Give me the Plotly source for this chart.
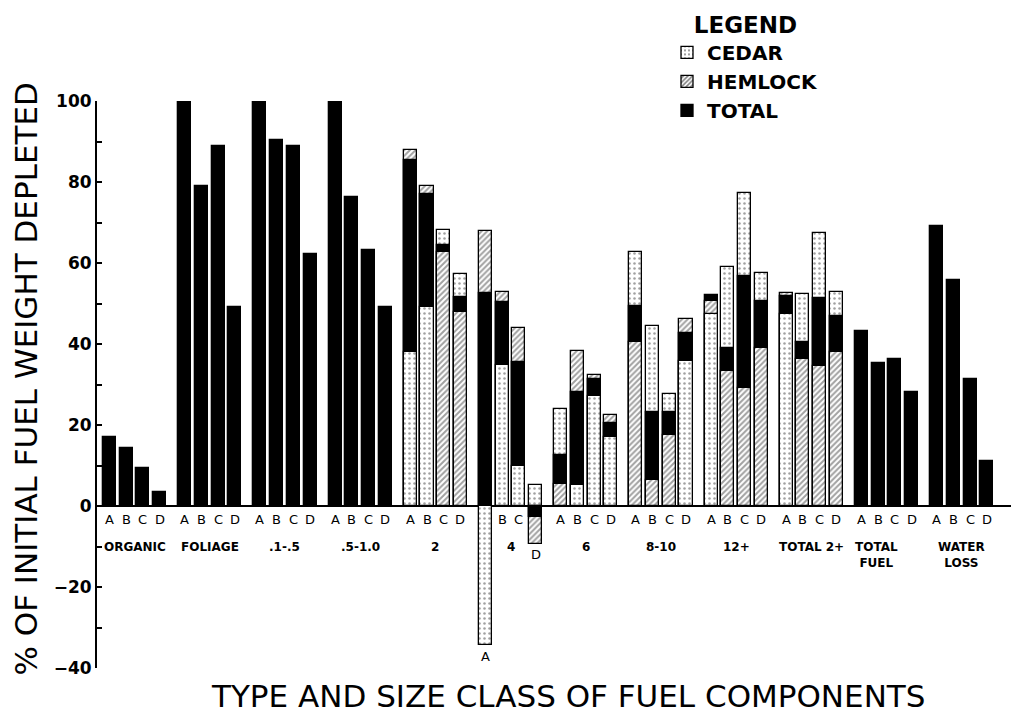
import plotly.graph_objects as go

# Fuel classes and the four burns (A-D) within each class
groups = ["ORGANIC", "FOLIAGE", ".1-.5", ".5-1.0", "2", "4", "6", "8-10",
          "12+", "TOTAL 2+", "TOTAL<br>FUEL", "WATER<br>LOSS"]
runs = ["A", "B", "C", "D"]

# % of initial fuel weight depleted (None = no species breakdown)
total = [
    17.0, 14.2, 9.3, 3.5,       # organic
    100.0, 79.0, 88.8, 49.1,    # foliage
    100.0, 90.3, 89.0, 62.2,    # .1-.5
    100.0, 76.2, 63.3, 49.1,    # .5-1.0
    85.5, 77.1, 64.4, 51.5,     # 2
    52.7, 50.4, 35.5, -2.8,     # 4
    12.5, 28.2, 31.3, 20.6,     # 6
    49.3, 23.1, 23.1, 42.7,     # 8-10
    52.1, 39.0, 56.8, 50.7,     # 12+
    51.9, 40.6, 51.4, 46.8,     # total 2+
    43.2, 35.3, 36.4, 28.2,     # total fuel
    69.1, 55.8, 31.4, 11.1,     # water loss
]
cedar = [
    None, None, None, None,
    None, None, None, None,
    None, None, None, None,
    None, None, None, None,
    38.0, 49.1, 68.1, 57.4,
    -34.3, 34.7, 10.0, 5.2,
    24.0, 5.2, 27.2, 17.0,
    62.6, 44.4, 27.7, 35.7,
    47.3, 59.1, 77.3, 57.5,
    47.4, 52.3, 67.5, 52.9,
    None, None, None, None,
    None, None, None, None,
]
hemlock = [
    None, None, None, None,
    None, None, None, None,
    None, None, None, None,
    None, None, None, None,
    87.8, 79.1, 62.7, 48.0,
    67.9, 52.9, 44.0, -9.3,
    5.5, 38.2, 32.3, 22.4,
    40.6, 6.5, 17.6, 46.2,
    50.7, 33.3, 29.2, 39.0,
    52.6, 36.2, 34.6, 38.0,
    None, None, None, None,
    None, None, None, None,
]

GROUP_STEP = 4.5      # four bar slots plus a half-slot gap
BAR_W = 0.78
FONT = "DejaVu Sans"

xpos = [g * GROUP_STEP + j for g in range(len(groups)) for j in range(len(runs))]

STYLE = {
    "cedar":   dict(color="white", shape=".", size=5, solidity=0.2),
    "hemlock": dict(color="white", shape="/", size=4, solidity=0.5),
    "total":   dict(color="black", shape="", size=5, solidity=0.3),
    None:      dict(color="white", shape="", size=5, solidity=0.3),
}

# Overlaid bars: the largest magnitude sits at the back, the smallest in front
layers = [[], [], []]
for c, h, t in zip(cedar, hemlock, total):
    parts = [(v, k) for v, k in ((c, "cedar"), (h, "hemlock"), (t, "total")) if v is not None]
    parts.sort(key=lambda p: -abs(p[0]))
    for i in range(3):
        layers[i].append(parts[i] if i < len(parts) else (None, None))

fig = go.Figure()
for layer in layers:
    vals = [v for v, _ in layer]
    kinds = [k for _, k in layer]
    fig.add_trace(go.Bar(
        x=xpos, y=vals, width=BAR_W, showlegend=False, hoverinfo="skip",
        marker=dict(
            color=[STYLE[k]["color"] for k in kinds],
            line=dict(color="black", width=1.3),
            pattern=dict(
                shape=[STYLE[k]["shape"] for k in kinds],
                size=[STYLE[k]["size"] for k in kinds],
                solidity=[STYLE[k]["solidity"] for k in kinds],
                fgcolor="black", fillmode="overlay",
            ),
        ),
    ))

# Legend entries
for name, kind in (("CEDAR", "cedar"), ("HEMLOCK", "hemlock"), ("TOTAL", "total")):
    st = STYLE[kind]
    fig.add_trace(go.Bar(
        x=[None], y=[None], name=name,
        marker=dict(color=st["color"], line=dict(color="black", width=1.3),
                    pattern=dict(shape=st["shape"], size=st["size"],
                                 solidity=st["solidity"], fgcolor="black",
                                 fillmode="overlay")),
    ))

ann = []
lab_font = dict(family=FONT, size=13, color="black")
name_font = dict(family=FONT, size=12, color="black", weight="bold")

# run letters under each bar
for i, x in enumerate(xpos):
    g, j = divmod(i, 4)
    if g == 5 and j in (0, 3):
        continue
    ann.append(dict(x=x, y=-3.3, text=runs[j], showarrow=False,
                    xanchor="center", yanchor="middle", font=lab_font))

# the "4" class has two bars below zero, lettered at their ends
i4a, i4d = 5 * 4 + 0, 5 * 4 + 3
ann.append(dict(x=xpos[i4a], y=min(cedar[i4a], hemlock[i4a], total[i4a]),
                text="A", showarrow=False, xanchor="center", yanchor="top",
                yshift=-2, font=lab_font))
ann.append(dict(x=xpos[i4d], y=min(cedar[i4d], hemlock[i4d], total[i4d]),
                text="D", showarrow=False, xanchor="center", yanchor="top",
                yshift=-1, font=lab_font))

# class names
for g, name in enumerate(groups):
    cx = g * GROUP_STEP + 1.5
    if name.startswith("TOTAL<br>"):
        cx = g * GROUP_STEP + 0.9
    ann.append(dict(x=cx, y=-7.9, text=name, showarrow=False,
                    xanchor="center", yanchor="top", font=name_font))

# axis titles
ann.append(dict(xref="paper", yref="paper", x=0.515, y=-0.0855,
                text="TYPE AND SIZE CLASS OF FUEL COMPONENTS", showarrow=False,
                xanchor="center", yanchor="bottom",
                font=dict(family=FONT, size=31, color="black")))
ann.append(dict(xref="paper", yref="paper", x=-0.078, y=0.51, textangle=-90,
                text="% OF INITIAL FUEL WEIGHT DEPLETED", showarrow=False,
                xanchor="center", yanchor="middle",
                font=dict(family=FONT, size=31, color="black")))

fig.update_layout(
    width=1014, height=718,
    margin=dict(l=97, r=3, t=101, b=50, autoexpand=False),
    paper_bgcolor="white", plot_bgcolor="white",
    barmode="overlay", bargap=0,
    annotations=ann,
    legend=dict(
        xref="container", yref="container", x=667 / 1014, y=1 - 3 / 718,
        xanchor="left", yanchor="top",
        bgcolor="rgba(0,0,0,0)",
        font=dict(family=FONT, size=20, color="black", weight="bold"),
        title=dict(text="LEGEND", side="top center",
                   font=dict(family=FONT, size=23, color="black", weight="bold")),
    ),
    xaxis=dict(range=[-0.75, 53.95], visible=False, fixedrange=True),
    yaxis=dict(
        range=[-40, 100], dtick=20, tick0=0,
        showgrid=False, showline=True, linecolor="black", linewidth=2,
        ticks="inside", ticklen=5, tickwidth=2, tickcolor="black",
        minor=dict(dtick=10, ticks="inside", ticklen=5, tickwidth=1.5,
                   tickcolor="black", showgrid=False),
        zeroline=True, zerolinecolor="black", zerolinewidth=2,
        tickfont=dict(family=FONT, size=17, color="black", weight="bold"),
        fixedrange=True,
    ),
)

fig.write_html("out.html")
